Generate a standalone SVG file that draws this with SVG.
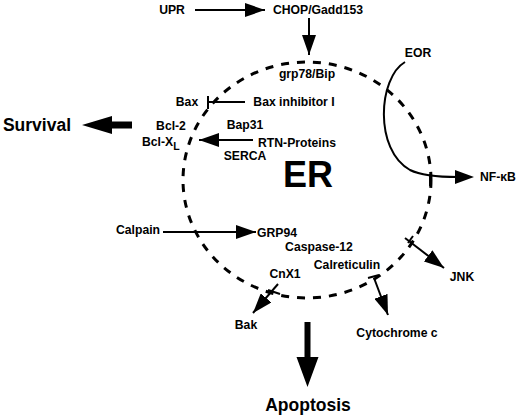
<svg xmlns="http://www.w3.org/2000/svg" width="520" height="416" viewBox="0 0 520 416">
<defs>
<style>
text{font-family:"Liberation Sans","DejaVu Sans",sans-serif;font-weight:bold;fill:#000}
.s{font-size:12.2px}
.b{font-size:17.5px}
.ln{stroke:#000;stroke-width:2;fill:none}
.hd{fill:#000;stroke:none}
</style>
<marker id="ahl" viewBox="0 0 10 10" refX="10" refY="5" markerWidth="20" markerHeight="14" markerUnits="userSpaceOnUse" orient="auto" preserveAspectRatio="none"><path d="M0,0 L10,5 L0,10 Z" fill="#000"/></marker>
</defs>
<rect width="520" height="416" fill="#fff"/>

<g id="er-membrane">
<ellipse cx="307" cy="180" rx="124" ry="118" fill="none" stroke="#000" stroke-width="3" stroke-dasharray="8 8"/>
</g>

<g id="connectors">
<line class="ln" x1="195" y1="10" x2="265" y2="10" marker-end="url(#ahl)"/>
<line class="ln" x1="309" y1="18" x2="309" y2="55" stroke-width="2.5" marker-end="url(#ahl)"/>
<line class="ln" x1="245" y1="102" x2="208" y2="102"/>
<line class="ln" x1="208" y1="96" x2="208" y2="109" stroke-width="3"/>
<line class="ln" x1="253" y1="140" x2="199" y2="140" stroke-width="3" marker-end="url(#ahl)"/>
<path d="M132,121.5 L112,121.5 L112,116 L82,125 L112,134 L112,128.5 L132,128.5 Z" class="hd"/>
<path class="ln" d="M405,62 C378,78 374,150 410,170 C422,176 440,177 458,177" stroke-width="2.5"/>
<path d="M455,170 L474,177 L455,184 Z" class="hd"/>
<line class="ln" x1="430" y1="174" x2="430" y2="186" stroke-width="3"/>
<line class="ln" x1="163" y1="232" x2="256" y2="232" marker-end="url(#ahl)"/>
<line class="ln" x1="278" y1="284" x2="253" y2="313" stroke-width="2.5" marker-end="url(#ahl)"/>
<line class="ln" x1="268" y1="290" x2="280" y2="294" stroke-width="2.5"/>
<line class="ln" x1="374" y1="278" x2="388" y2="315" stroke-width="2.5" marker-end="url(#ahl)"/>
<line class="ln" x1="368" y1="278" x2="379" y2="275" stroke-width="2.5"/>
<line class="ln" x1="405" y1="238" x2="444" y2="268" stroke-width="2.5" marker-end="url(#ahl)"/>
<line class="ln" x1="408" y1="243" x2="413" y2="236" stroke-width="2.5"/>
<path d="M304.5,322 L310.5,322 L310.5,357 L318.5,357 L307.5,387 L296.5,357 L304.5,357 Z" class="hd"/>
</g>

<g id="n-upr"><text class="s" x="172" y="14" text-anchor="middle">UPR</text></g>
<g id="n-chop"><text class="s" x="318" y="14" text-anchor="middle">CHOP/Gadd153</text></g>
<g id="n-grp78"><text class="s" x="307" y="78" text-anchor="middle">grp78/Bip</text></g>
<g id="n-eor"><text class="s" x="418" y="57" text-anchor="middle">EOR</text></g>
<g id="n-bax"><text class="s" x="187" y="106" text-anchor="middle">Bax</text></g>
<g id="n-baxinh"><text class="s" x="294" y="106" text-anchor="middle">Bax inhibitor I</text></g>
<g id="n-survival"><text class="b" x="37" y="131" text-anchor="middle">Survival</text></g>
<g id="n-bcl2"><text class="s" x="171" y="130" text-anchor="middle">Bcl-2</text></g>
<g id="n-bclxl"><text class="s" x="142" y="146">Bcl-X<tspan dy="4" font-size="10.5px">L</tspan></text></g>
<g id="n-bap31"><text class="s" x="245" y="129" text-anchor="middle">Bap31</text></g>
<g id="n-rtn"><text class="s" x="297" y="147" text-anchor="middle">RTN-Proteins</text></g>
<g id="n-serca"><text class="s" x="245" y="160" text-anchor="middle">SERCA</text></g>
<g id="n-er"><text x="308" y="187" text-anchor="middle" font-size="36px">ER</text></g>
<g id="n-nfkb"><text class="s" x="480" y="181">NF-κB</text></g>
<g id="n-calpain"><text class="s" x="138" y="234" text-anchor="middle">Calpain</text></g>
<g id="n-grp94"><text class="s" x="277" y="237" text-anchor="middle">GRP94</text></g>
<g id="n-casp12"><text class="s" x="319" y="251" text-anchor="middle">Caspase-12</text></g>
<g id="n-calret"><text class="s" x="347" y="269" text-anchor="middle">Calreticulin</text></g>
<g id="n-cnx1"><text class="s" x="285" y="278" text-anchor="middle">CnX1</text></g>
<g id="n-bak"><text class="s" x="246" y="329" text-anchor="middle">Bak</text></g>
<g id="n-cytc"><text class="s" x="397" y="337" text-anchor="middle">Cytochrome c</text></g>
<g id="n-jnk"><text class="s" x="462" y="281" text-anchor="middle">JNK</text></g>
<g id="n-apoptosis"><text class="b" x="308" y="411" text-anchor="middle">Apoptosis</text></g>
</svg>
